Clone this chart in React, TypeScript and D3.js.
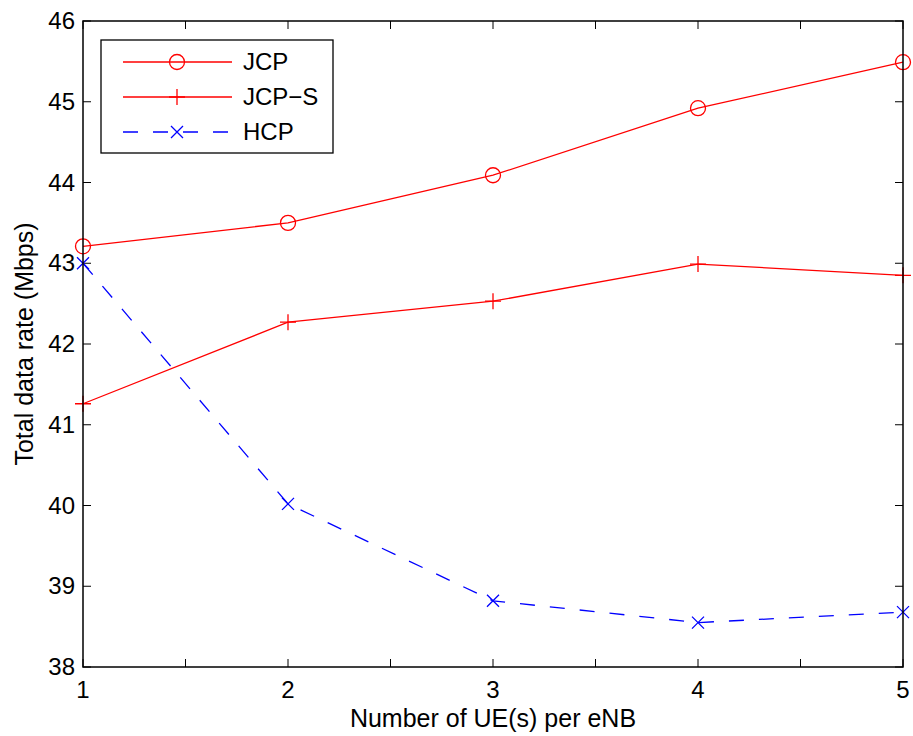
import React from 'react'
import * as d3 from 'd3'

const ues = [1, 2, 3, 4, 5]
const jcp = [43.21, 43.5, 44.09, 44.92, 45.49]
const jcpS = [41.26, 42.27, 42.53, 42.99, 42.85]
const hcp = [43.0, 40.02, 38.82, 38.55, 38.68]
const yTicks = [38, 39, 40, 41, 42, 43, 44, 45, 46]
const xMinor = [1, 1.5, 2, 2.5, 3, 3.5, 4, 4.5, 5]

const W = 913
const H = 736
const margin = {top: 21, right: 10, bottom: 69, left: 83}
const font = 'Liberation Sans, Arial, sans-serif'

const series = [
  {name: 'JCP', values: jcp, color: '#ff0000', marker: 'circle', dash: null},
  {name: 'JCP\u2212S', values: jcpS, color: '#ff0000', marker: 'plus', dash: null},
  {name: 'HCP', values: hcp, color: '#0000ff', marker: 'x', dash: '15,15'}
]

function Marker({kind, x, y, color}: {kind: string; x: number; y: number; color: string}) {
  if (kind === 'circle')
    return <circle cx={x} cy={y} r={7.5} fill="none" stroke={color} strokeWidth={1.3} />
  if (kind === 'plus')
    return (
      <path
        d={`M${x - 8},${y}H${x + 8}M${x},${y - 8}V${y + 8}`}
        stroke={color}
        strokeWidth={1.3}
        fill="none"
      />
    )
  return (
    <path
      d={`M${x - 6},${y - 6}L${x + 6},${y + 6}M${x - 6},${y + 6}L${x + 6},${y - 6}`}
      stroke={color}
      strokeWidth={1.3}
      fill="none"
    />
  )
}

export default function App() {
  const x0 = margin.left
  const x1 = W - margin.right
  const y0 = margin.top
  const y1 = H - margin.bottom

  const x = d3.scaleLinear().domain([1, 5]).range([x0, x1])
  const y = d3.scaleLinear().domain([38, 46]).range([y1, y0])

  const line = d3
    .line<number>()
    .x((d, i) => x(ues[i]))
    .y(d => y(d))

  const legend = {x: 101, y: 40, w: 232, h: 113}

  return (
    <svg width={W} height={H} style={{position: 'absolute', left: 0, top: 0}} fontFamily={font}>
      <rect width={W} height={H} fill="#fff" />

      {/* ticks, mirrored inside the box */}
      {xMinor.map(t => (
        <g key={'xt' + t} stroke="#000" strokeWidth={1}>
          <line x1={x(t)} x2={x(t)} y1={y1} y2={y1 - 8} />
          <line x1={x(t)} x2={x(t)} y1={y0} y2={y0 + 8} />
        </g>
      ))}
      {yTicks.map(t => (
        <g key={'yt' + t} stroke="#000" strokeWidth={1}>
          <line x1={x0} x2={x0 + 8} y1={y(t)} y2={y(t)} />
          <line x1={x1} x2={x1 - 8} y1={y(t)} y2={y(t)} />
        </g>
      ))}

      {series.map(s => (
        <g key={s.name}>
          <path
            d={line(s.values) || ''}
            fill="none"
            stroke={s.color}
            strokeWidth={1.3}
            strokeDasharray={s.dash || undefined}
          />
          {s.values.map((v, i) => (
            <Marker key={i} kind={s.marker} x={x(ues[i])} y={y(v)} color={s.color} />
          ))}
        </g>
      ))}

      <rect x={x0} y={y0} width={x1 - x0} height={y1 - y0} fill="none" stroke="#000" strokeWidth={1.5} />

      {ues.map(t => (
        <text key={'xl' + t} x={x(t)} y={y1 + 31} fontSize={24} textAnchor="middle">
          {t}
        </text>
      ))}
      {yTicks.map(t => (
        <text key={'yl' + t} x={x0 - 8} y={y(t) + 8} fontSize={24} textAnchor="end">
          {t}
        </text>
      ))}

      <text x={(x0 + x1) / 2} y={H - 9} fontSize={25} textAnchor="middle">
        Number of UE(s) per eNB
      </text>
      <text
        transform={`translate(33,${(y0 + y1) / 2}) rotate(-90)`}
        fontSize={25}
        textAnchor="middle"
      >
        Total data rate (Mbps)
      </text>

      <g>
        <rect x={legend.x} y={legend.y} width={legend.w} height={legend.h} fill="#fff" stroke="#000" strokeWidth={1.3} />
        {series.map((s, i) => {
          const ly = legend.y + 22 + i * 35
          return (
            <g key={'lg' + s.name}>
              <line
                x1={123}
                x2={232}
                y1={ly}
                y2={ly}
                stroke={s.color}
                strokeWidth={1.3}
                strokeDasharray={s.dash || undefined}
              />
              <Marker kind={s.marker} x={177} y={ly} color={s.color} />
              <text x={243} y={ly + 8} fontSize={24}>
                {s.name}
              </text>
            </g>
          )
        })}
      </g>
    </svg>
  )
}
